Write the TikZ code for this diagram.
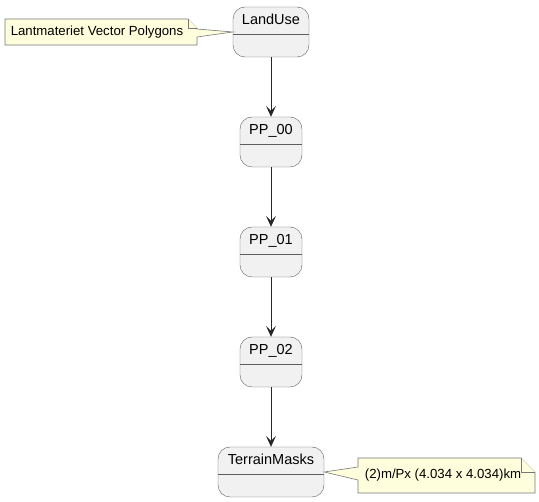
\documentclass[tikz,border=0pt]{standalone}
\usepackage{fontspec}
\setmainfont{Liberation Sans}
\usetikzlibrary{arrows.meta,calc}
\definecolor{statefill}{RGB}{241,241,241}
\definecolor{stateline}{RGB}{94,94,94}
\definecolor{notefill}{RGB}{254,254,221}
\definecolor{noteline}{RGB}{120,120,120}

\begin{document}
\begin{tikzpicture}[x=1pt,y=-1pt,>={Stealth[length=11pt,width=10pt,inset=5pt]},
  statebox/.style={draw=stateline,fill=statefill,rounded corners=12pt,
    minimum height=50pt,inner sep=0pt},
  notebox/.style={draw=noteline,fill=notefill,line width=0.6pt,line join=miter}]
  \useasboundingbox (0,0) rectangle (539,502);
  % states
  \node[statebox,minimum width=76pt] (landuse) at (271,32) {};
  \node[statebox,minimum width=62pt] (pp0) at (271,142) {};
  \node[statebox,minimum width=62pt] (pp1) at (271,252) {};
  \node[statebox,minimum width=62pt] (pp2) at (271,362) {};
  \node[statebox,minimum width=106pt] (masks) at (271,472) {};
  \foreach \s/\t in {landuse/LandUse,pp0/PP\_00,pp1/PP\_01,pp2/PP\_02,masks/TerrainMasks}
    {\draw[stateline] ([yshift=-2pt]\s.west)--([yshift=-2pt]\s.east);
     \node[anchor=north,inner sep=0pt,font=\fontsize{14.5}{16}\selectfont] at ([yshift=-7pt]\s.north) {\t};}
  % transitions
  \draw[thick,black!85,->] (landuse)--(pp0);
  \draw[thick,black!85,->] (pp0)--(pp1);
  \draw[thick,black!85,->] (pp1)--(pp2);
  \draw[thick,black!85,->] (pp2)--(masks);
  % notes
  \coordinate (tipA) at (landuse.west);
  \coordinate (tipB) at (masks.east);
  \draw[notebox] (5,19)--(188,19)--(197,28)--(197,29)--(tipA)--(197,37)--(197,45)--(5,45)--cycle;
  \draw[notebox] (188,19)--(188,28)--(197,28);
  \node[font=\fontsize{13.2}{15}\selectfont] (noteA) at (97,32.5) {Lantmateriet Vector Polygons};
  \draw[notebox] (358,458)--(521,458)--(535,472)--(535,493)--(358,493)--(358,480)--(tipB)--(358,467)--cycle;
  \draw[notebox] (521,458)--(521,472)--(535,472);
  \node[font=\fontsize{13.2}{15}\selectfont] (noteB) at (443,475.5) {(2)m/Px (4.034 x 4.034)km};
\end{tikzpicture}
\end{document}
